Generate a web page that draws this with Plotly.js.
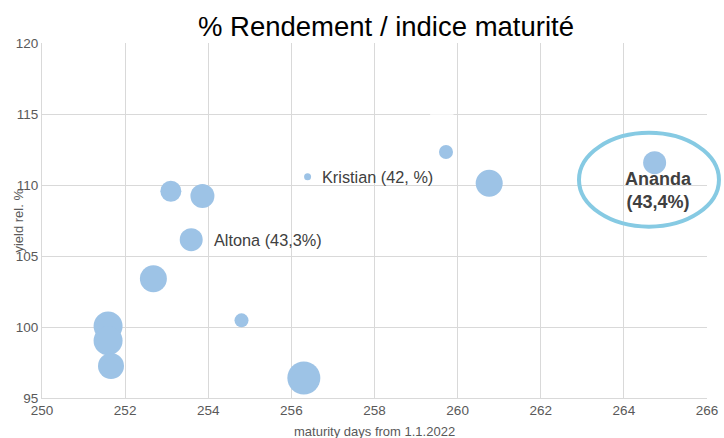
<!DOCTYPE html>
<html>
<head>
<meta charset="utf-8">
<script src="https://cdn.plot.ly/plotly-3.0.1.min.js"></script>
<style>html,body{margin:0;padding:0;background:#fff;}#chart{width:724px;height:438px;}</style>
</head>
<body>
<div id="chart"></div>
<script>
// Data
var maturityDays = [251.59, 251.59, 251.66, 252.68, 253.10, 253.86, 253.59, 254.80, 256.30, 256.39, 259.72, 260.76, 264.74];
var yieldRel     = [100.07, 99.04, 97.25, 103.40, 109.56, 109.23, 106.15, 100.47, 96.41, 110.58, 112.32, 110.12, 111.57];
var bubbleSize   = [29, 29, 26, 27, 21, 24, 23, 14, 33, 7, 14, 27, 23];
var pointLabels  = ["", "", "", "", "", "", "Altona (43,3%)", "", "", "Kristian (42, %)", "", "", ""];
var highlightIdx = 12;
var highlightLabel = "Ananda<br>(43,4%)";
var hiddenX = [259.62], hiddenY = [115.28], hiddenSize = [25];

var xTicks = [250, 252, 254, 256, 258, 260, 262, 264, 266];
var yTicks = [95, 100, 105, 110, 115, 120];

var FONT = "Liberation Sans, Arial, sans-serif";

var traces = [
  {
    type: "scatter", mode: "markers",
    x: maturityDays, y: yieldRel,
    marker: {size: bubbleSize, color: "#9dc3e6", line: {width: 0}, opacity: 1},
    hoverinfo: "x+y", showlegend: false, cliponaxis: false
  },
  {
    type: "scatter", mode: "markers",
    x: hiddenX, y: hiddenY,
    marker: {size: hiddenSize, color: "#ffffff", line: {width: 0}},
    hoverinfo: "skip", showlegend: false
  }
];

var annotations = [];
pointLabels.forEach(function (t, i) {
  if (!t) return;
  annotations.push({
    x: maturityDays[i], y: yieldRel[i], xref: "x", yref: "y",
    text: t, showarrow: false, xanchor: "left", yanchor: "middle",
    xshift: bubbleSize[i] / 2 + 9,
    font: {family: FONT, size: 16.3, color: "#404040"}
  });
});
annotations.push({
  x: maturityDays[highlightIdx], y: yieldRel[highlightIdx], xref: "x", yref: "y",
  text: highlightLabel, showarrow: false, xanchor: "center", yanchor: "top",
  xshift: 4, yshift: -4,
  font: {family: FONT, size: 18, color: "#404040", weight: "bold"}
});
annotations.push({
  x: -0.036, y: 0.5, xref: "paper", yref: "paper",
  text: "yield rel. %", textangle: -90, showarrow: false,
  xanchor: "center", yanchor: "middle",
  font: {family: FONT, size: 13, color: "#595959"}
});
annotations.push({
  x: 0.5, y: -0.093, xref: "paper", yref: "paper",
  text: "maturity days from 1.1.2022", showarrow: false,
  xanchor: "center", yanchor: "middle",
  font: {family: FONT, size: 13, color: "#595959"}
});

var layout = {
  width: 724, height: 438,
  margin: {l: 42, r: 17, t: 43, b: 40, pad: 0},
  paper_bgcolor: "#ffffff", plot_bgcolor: "#ffffff",
  title: {
    text: "% Rendement / indice maturité",
    x: 386 / 724, xref: "container", xanchor: "center",
    y: 1 - 26 / 438, yref: "container", yanchor: "middle",
    font: {family: FONT, size: 27.5, color: "#000000"}
  },
  xaxis: {
    range: [250, 266], tickvals: xTicks, ticktext: xTicks.map(String),
    showgrid: true, gridcolor: "#d9d9d9", gridwidth: 1,
    showline: true, linecolor: "#d9d9d9", linewidth: 1, mirror: false,
    zeroline: false, ticks: "",
    tickfont: {family: FONT, size: 13.5, color: "#595959"}
  },
  yaxis: {
    range: [95, 120], tickvals: yTicks, ticktext: yTicks.map(String),
    showgrid: true, gridcolor: "#d9d9d9", gridwidth: 1,
    showline: true, linecolor: "#d9d9d9", linewidth: 1,
    zeroline: false, ticks: "",
    tickfont: {family: FONT, size: 13.5, color: "#595959"}
  },
  shapes: [{
    type: "circle", xref: "paper", yref: "paper",
    x0: 0.8075, x1: 1.018, y0: 0.4825, y1: 0.747,
    line: {color: "#86cae3", width: 4}, fillcolor: "rgba(0,0,0,0)", layer: "above"
  }],
  annotations: annotations,
  showlegend: false
};

Plotly.newPlot("chart", traces, layout, {staticPlot: true, displayModeBar: false});
</script>
</body>
</html>
